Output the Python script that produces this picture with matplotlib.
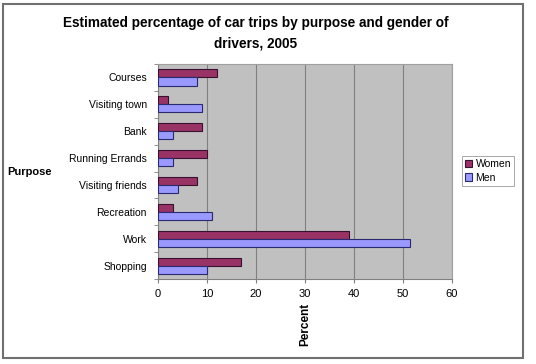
import matplotlib
matplotlib.use("Agg")
import matplotlib.pyplot as plt
import numpy as np
from matplotlib.patches import Rectangle

categories = ["Courses", "Visiting town", "Bank", "Running Errands",
              "Visiting friends", "Recreation", "Work", "Shopping"]
women = [12, 2, 9, 10, 8, 3, 39, 17]
men = [8, 9, 3, 3, 4, 11, 51.5, 10]
xticks = [0, 10, 20, 30, 40, 50, 60]

plt.rcParams['font.family'] = ['Liberation Sans', 'DejaVu Sans']

fig = plt.figure(figsize=(5.36, 3.64), dpi=100)
W, H = 536, 364
ax = fig.add_axes([158 / W, 1 - 279 / H, (452 - 158) / W, (279 - 64) / H])
ax.set_facecolor('#C0C0C0')

n = len(categories)
y = np.arange(n)[::-1]  # top category first
h = 0.3
ax.barh(y + h / 2, women, height=h, color='#993366', edgecolor='#3a1030',
        linewidth=0.8, label='Women', zorder=3)
ax.barh(y - h / 2, men, height=h, color='#9999FF', edgecolor='#2a2a70',
        linewidth=0.8, label='Men', zorder=3)

ax.set_xlim(0, 60)
ax.set_ylim(-0.5, n - 0.5)
ax.set_xticks(xticks)
ax.set_xticklabels([str(v) for v in xticks], fontsize=8)
ax.set_yticks(y)
ax.set_yticklabels(categories, fontsize=7.5)
ax.set_yticks(np.arange(-0.5, n, 1.0), minor=True)
ax.tick_params(axis='y', which='major', length=0, pad=8)
ax.tick_params(axis='y', which='minor', length=3, color='#808080')
ax.tick_params(axis='x', length=3, color='#808080', pad=4)
ax.xaxis.grid(True, color='#808080', linewidth=0.8, zorder=0)
ax.set_axisbelow(True)
for s in ['top', 'right']:
    ax.spines[s].set_color('#A0A0A0')
for s in ['left', 'bottom']:
    ax.spines[s].set_color('#808080')

ax.set_xlabel('Percent', fontsize=8.5, fontweight='bold', rotation=90, labelpad=3)

fig.text(30 / W, 1 - 172 / H, 'Purpose', fontsize=8, fontweight='bold',
         ha='center', va='center')

fig.suptitle('Estimated percentage of car trips by purpose and gender of\ndrivers, 2005',
             x=256 / W, y=1 - 16 / H, fontsize=9.8, fontweight='bold', va='top',
             linespacing=1.55)

leg = ax.legend(loc='center left', bbox_to_anchor=(462 / W, 1 - 171 / H),
                bbox_transform=fig.transFigure, fontsize=7.5, frameon=True,
                fancybox=False, edgecolor='#808080', handlelength=0.7,
                handleheight=0.7, handletextpad=0.3, borderpad=0.3,
                labelspacing=0.3, borderaxespad=0)
leg.get_frame().set_linewidth(0.6)

fig.patches.append(Rectangle((3 / W, 1 - 358 / H), (523 - 3) / W, (358 - 4) / H,
                             transform=fig.transFigure, fill=False,
                             edgecolor='#707070', linewidth=1.5))

fig.savefig('out.png', dpi=100)
